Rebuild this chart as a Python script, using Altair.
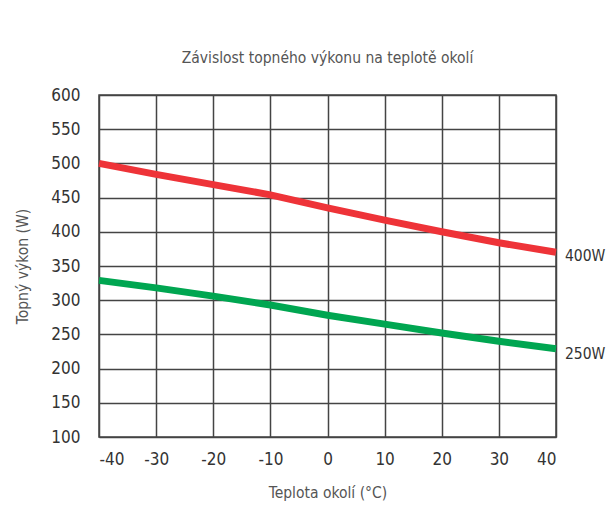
import altair as alt
import pandas as pd

temps = [-40, -30, -20, -10, 0, 10, 20, 30, 40]
power_400 = [500, 484, 469, 454, 435, 417, 400, 384, 370]
power_250 = [329, 318, 306, 293, 278, 265, 252, 240, 229]
series_names = ["400W", "250W"]
label_values = [365, 221]
y_ticks = [100, 150, 200, 250, 300, 350, 400, 450, 500, 550, 600]

rows = []
for t, a, b in zip(temps, power_400, power_250):
    rows.append({"t": t, "p": a, "s": "400W"})
    rows.append({"t": t, "p": b, "s": "250W"})
df = pd.DataFrame(rows)
lab = pd.DataFrame({"t": [40, 40], "p": label_values, "s": series_names})

FONT = "Liberation Sans Narrow, DejaVu Sans Condensed, Roboto, sans-serif"
TFONT = "DejaVu Sans Condensed, Roboto, sans-serif"

x = alt.X("t:Q", scale=alt.Scale(domain=[-40, 40], nice=False),
          axis=alt.Axis(values=temps, title="Teplota okolí (°C)", grid=True,
                        labelExpr="replace(datum.label, '−', '-')",
                        tickSize=0, labelPadding=14, titlePadding=18, domain=False))
y = alt.Y("p:Q", scale=alt.Scale(domain=[100, 600], nice=False),
          axis=alt.Axis(values=y_ticks, title="Topný výkon (W)", grid=True,
                        tickSize=0, labelPadding=19, titlePadding=20, domain=False))

base = alt.Chart(df).encode(x=x, y=y)
lines = base.mark_line(strokeWidth=7, strokeCap="butt").encode(
    color=alt.Color("s:N", scale=alt.Scale(domain=series_names, range=["#ee3338", "#00a651"]), legend=None),
)
labels = alt.Chart(lab).mark_text(align="left", baseline="middle", dx=9, fontSize=15.5,
                                  font=FONT, color="#333333").encode(
    x=x, y=y, text="s:N")

chart = alt.layer(lines, labels).properties(
    width=457, height=342,
    autosize=alt.AutoSizeParams(type="none"),
    padding={"left": 91, "top": 87, "right": 52, "bottom": 66},
    title=alt.TitleParams("Závislost topného výkonu na teplotě okolí", fontSize=15.5,
                          font=TFONT, color="#555555", fontWeight="normal", offset=20, anchor="middle"),
).configure_view(stroke="#444444", strokeWidth=1.5).configure_axis(
    gridColor="#444444", gridWidth=1.5, gridOpacity=1,
    labelFont=FONT, labelFontSize=17, labelColor="#333333",
    titleFont=TFONT, titleFontSize=15.5, titleColor="#555555", titleFontWeight="normal",
)

chart.save("out.html", embed_options={"renderer": "svg", "actions": False})
